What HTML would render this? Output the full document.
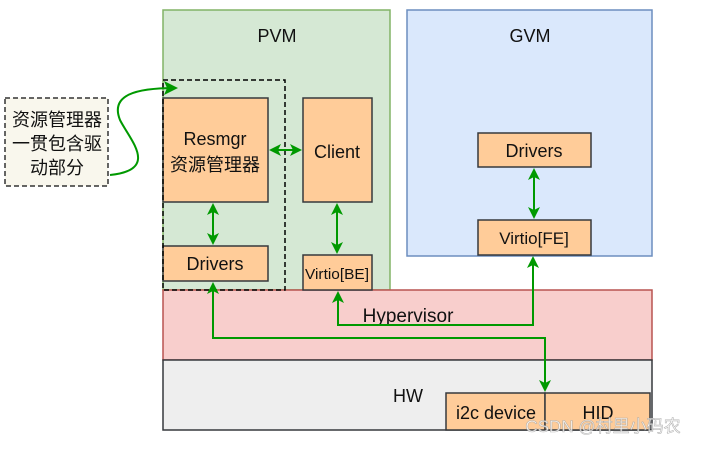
<!DOCTYPE html><html><head><style>body{margin:0;background:#fff}</style></head><body>
<svg width="704" height="445" xmlns="http://www.w3.org/2000/svg" font-family="Liberation Sans, Noto Sans CJK SC, sans-serif">
<defs><marker id="a" markerWidth="12" markerHeight="12" refX="10" refY="6" orient="auto-start-reverse" markerUnits="userSpaceOnUse"><path d="M0,0 L12,6 L0,12 L3,6z" fill="#009900"/></marker>
<marker id="b" markerWidth="14" markerHeight="14" refX="12" refY="7" orient="auto-start-reverse" markerUnits="userSpaceOnUse"><path d="M0,0 L14,7 L0,14 L3,7z" fill="#009900"/></marker></defs>
<rect x="163" y="10" width="227" height="280" fill="#d5e8d4" stroke="#82b366" stroke-width="1.5"/>
<rect x="407" y="10" width="245" height="246" fill="#dae8fc" stroke="#6c8ebf" stroke-width="1.5"/>
<rect x="163" y="290" width="489" height="70" fill="#f8cecc" stroke="#b85450" stroke-width="1.5"/>
<rect x="163" y="360" width="489" height="70" fill="#eeeeee" stroke="#36393d" stroke-width="1.5"/>
<g font-size="18" fill="#111" text-anchor="middle">
<text x="277" y="42">PVM</text><text x="530" y="42">GVM</text>
<text x="408" y="322" font-size="19">Hypervisor</text><text x="408" y="402">HW</text></g>
<g fill="#ffcc99" stroke="#36393d" stroke-width="1.5">
<rect x="163" y="98" width="105" height="104"/><rect x="303" y="98" width="69" height="104"/>
<rect x="163" y="246" width="105" height="35"/><rect x="303" y="255" width="69" height="35"/>
<rect x="478" y="133" width="113" height="34"/><rect x="478" y="220" width="113" height="35"/>
<rect x="446" y="393" width="99" height="37"/><rect x="545" y="393" width="105" height="37"/></g>
<rect x="163" y="80" width="122" height="210" fill="none" stroke="#000" stroke-width="1.5" stroke-dasharray="5,3"/>
<rect x="5" y="98" width="103" height="88" fill="#f9f7ed" stroke="#333" stroke-width="1.5" stroke-dasharray="5,3"/>
<g font-size="18" fill="#111" text-anchor="middle">
<text x="215" y="145">Resmgr</text><text x="215" y="171">资源管理器</text>
<text x="337" y="158">Client</text><text x="215" y="270">Drivers</text>
<text x="534" y="157">Drivers</text><text x="534" y="244" font-size="17">Virtio[FE]</text>
<text x="496" y="419">i2c device</text><text x="598" y="419">HID</text>
<text x="57" y="126">资源管理器</text><text x="57" y="150">一贯包含驱</text><text x="57" y="174">动部分</text></g>
<text x="337" y="279" font-size="15" text-anchor="middle" fill="#111" textLength="64" lengthAdjust="spacingAndGlyphs">Virtio[BE]</text>
<g stroke="#009900" stroke-width="2" fill="none">
<path d="M110,175 C160,170 130,140 120,120 C110,95 135,88 176,88" marker-end="url(#b)"/>
<path d="M271,150 L300,150" marker-start="url(#a)" marker-end="url(#a)"/>
<path d="M213,205 L213,243" marker-start="url(#a)" marker-end="url(#a)"/>
<path d="M337,205 L337,252" marker-start="url(#a)" marker-end="url(#a)"/>
<path d="M534,170 L534,217" marker-start="url(#a)" marker-end="url(#a)"/>
<path d="M338,293 L338,325 L533,325 L533,258" marker-start="url(#a)" marker-end="url(#a)"/>
<path d="M213,284 L213,338 L545,338 L545,390" marker-start="url(#a)" marker-end="url(#a)"/>
</g>
<text x="603" y="432" font-size="17" fill="#fff" stroke="#aaa" stroke-width="0.6" text-anchor="middle" opacity="0.85">CSDN @村里小码农</text>
</svg></body></html>
